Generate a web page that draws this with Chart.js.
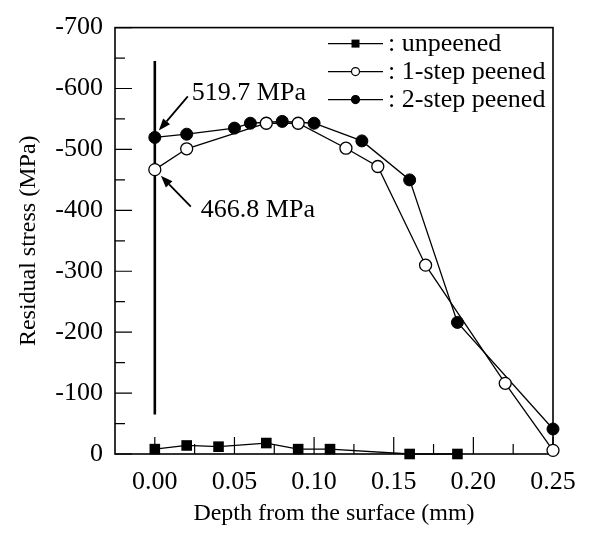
<!DOCTYPE html>
<html><head><meta charset="utf-8">
<script src="https://cdn.jsdelivr.net/npm/chart.js@4/dist/chart.umd.min.js"></script>
<style>html,body{margin:0;padding:0;background:#fff}#wrap{width:592px;height:542px}</style>
</head><body><div id="wrap"><canvas id="c" width="592" height="542" style="width:592px;height:542px"></canvas></div>
<script>
const depthUnpeened = [0, 0.02, 0.04, 0.07, 0.09, 0.11, 0.16, 0.19];
const stressUnpeened = [-8, -14, -12, -18, -8, -8, 0, 0];
const depth1Step = [0, 0.02, 0.07, 0.09, 0.12, 0.14, 0.17, 0.22, 0.25];
const stress1Step = [-466.8, -501, -543, -543, -502, -472, -310, -116, -6];
const depth2Step = [0, 0.02, 0.05, 0.06, 0.08, 0.10, 0.13, 0.16, 0.19, 0.25];
const stress2Step = [-519.7, -525, -535, -543, -546, -543, -514, -450, -216, -41];
const surfaceLineDepth = [0, 0];
const surfaceLineStress = [-645, -65];
const xTicks = [0, 0.05, 0.10, 0.15, 0.20, 0.25];
const xMinorTicks = [0.025, 0.075, 0.125, 0.175, 0.225];
const yMinorTicks = [-650, -550, -450, -350, -250, -150, -50];
const seriesNames = ['unpeened', '1-step peened', '2-step peened'];
const calloutLabels = ['519.7 MPa', '466.8 MPa'];
const calloutDepth = [0, 0];
const calloutStress = [-519.7, -466.8];

const FONT = '"Liberation Serif", "Times New Roman", serif';
const pts = (xs, ys) => xs.map((x, i) => ({x: x, y: ys[i]}));

const frameAndTicks = {
  id: 'frameAndTicks',
  beforeDatasetsDraw(chart) {
    const {ctx, chartArea: a, scales: {x, y}} = chart;
    ctx.save();
    ctx.strokeStyle = '#000';
    ctx.lineWidth = 1.2;
    ctx.beginPath();
    y.ticks.forEach(t => { const py = y.getPixelForValue(t.value); ctx.moveTo(a.left, py); ctx.lineTo(a.left + 17, py); });
    yMinorTicks.forEach(v => { const py = y.getPixelForValue(v); ctx.moveTo(a.left, py); ctx.lineTo(a.left + 10, py); });
    xTicks.forEach(v => { const px = x.getPixelForValue(v); ctx.moveTo(px, a.bottom); ctx.lineTo(px, a.bottom - 17); });
    xMinorTicks.forEach(v => { const px = x.getPixelForValue(v); ctx.moveTo(px, a.bottom); ctx.lineTo(px, a.bottom - 10); });
    ctx.stroke();
    ctx.lineWidth = 1.6;
    ctx.strokeRect(a.left, a.top, a.right - a.left, a.bottom - a.top);
    ctx.restore();
  },
  afterDraw(chart) {
    const {ctx, chartArea: a, scales: {x, y}} = chart;
    ctx.save();
    const ds = chart.data.datasets;
    const lx0 = a.right - 225, lx1 = a.right - 170, tx = a.right - 165;
    ctx.font = '26px ' + FONT;
    ctx.textBaseline = 'middle';
    ctx.fillStyle = '#000';
    for (let i = 0; i < 3; i++) {
      const ly = a.top + 16 + i * 28;
      ctx.strokeStyle = '#000'; ctx.lineWidth = 1.3;
      ctx.beginPath(); ctx.moveTo(lx0, ly); ctx.lineTo(lx1, ly); ctx.stroke();
      const mx = (lx0 + lx1) / 2;
      ctx.beginPath();
      if (ds[i].pointStyle === 'rect') { ctx.rect(mx - 4, ly - 4, 8, 8); ctx.fillStyle = '#000'; ctx.fill(); }
      else { ctx.arc(mx, ly, 4, 0, Math.PI * 2); ctx.fillStyle = ds[i].pointBackgroundColor; ctx.fill(); ctx.lineWidth = 1.2; ctx.stroke(); }
      ctx.fillStyle = '#000';
      ctx.textAlign = 'left';
      ctx.fillText(': ' + seriesNames[i], tx, ly + 1);
    }
    const arrow = (x1, y1, x2, y2) => {
      ctx.strokeStyle = '#000'; ctx.fillStyle = '#000'; ctx.lineWidth = 1.8;
      const ang = Math.atan2(y2 - y1, x2 - x1);
      const hl = 12, hw = 4.5;
      const bx = x2 - hl * Math.cos(ang), by = y2 - hl * Math.sin(ang);
      ctx.beginPath(); ctx.moveTo(x1, y1); ctx.lineTo(bx, by); ctx.stroke();
      ctx.beginPath(); ctx.moveTo(x2, y2);
      ctx.lineTo(bx + hw * Math.sin(ang), by - hw * Math.cos(ang));
      ctx.lineTo(bx - hw * Math.sin(ang), by + hw * Math.cos(ang));
      ctx.closePath(); ctx.fill();
    };
    ctx.font = '26px ' + FONT;
    ctx.textAlign = 'left';
    ctx.textBaseline = 'middle';
    const p0x = x.getPixelForValue(calloutDepth[0]), p0y = y.getPixelForValue(calloutStress[0]);
    arrow(p0x + 33, p0y - 41, p0x + 4, p0y - 7);
    ctx.fillText(calloutLabels[0], p0x + 37, p0y - 44);
    const p1x = x.getPixelForValue(calloutDepth[1]), p1y = y.getPixelForValue(calloutStress[1]);
    arrow(p1x + 36, p1y + 37, p1x + 6, p1y + 6);
    ctx.fillText(calloutLabels[1], p1x + 46, p1y + 41);
    ctx.restore();
  }
};

new Chart(document.getElementById('c'), {
  type: 'line',
  data: {
    datasets: [
      { label: seriesNames[0], data: pts(depthUnpeened, stressUnpeened), borderColor: '#000', borderWidth: 1.3,
        pointStyle: 'rect', pointRadius: 7.5, pointBackgroundColor: '#000', pointBorderColor: '#000', pointBorderWidth: 0, clip: false },
      { label: seriesNames[1], data: pts(depth1Step, stress1Step), borderColor: '#000', borderWidth: 1.3,
        pointStyle: 'circle', pointRadius: 6, pointBackgroundColor: '#fff', pointBorderColor: '#000', pointBorderWidth: 1.3, clip: false },
      { label: seriesNames[2], data: pts(depth2Step, stress2Step), borderColor: '#000', borderWidth: 1.3,
        pointStyle: 'circle', pointRadius: 6, pointBackgroundColor: '#000', pointBorderColor: '#000', pointBorderWidth: 1, clip: false },
      { label: 'surface', data: pts(surfaceLineDepth, surfaceLineStress), borderColor: '#000', borderWidth: 2.6,
        pointRadius: 0, clip: false }
    ]
  },
  options: {
    responsive: false,
    animation: false,
    events: [],
    layout: { padding: { top: 18, right: 39, left: 0, bottom: 0 } },
    plugins: { legend: { display: false }, tooltip: { enabled: false } },
    scales: {
      x: {
        type: 'linear', min: -0.025, max: 0.25,
        afterBuildTicks: s => { s.ticks = xTicks.map(v => ({value: v})); },
        afterFit: s => { s.height = 88; },
        grid: { display: false, drawTicks: false }, border: { display: false },
        ticks: { padding: 13, color: '#000', font: { family: FONT, size: 26 }, callback: v => Number(v).toFixed(2), maxRotation: 0, autoSkip: false },
        title: { display: true, text: 'Depth from the surface (mm)', color: '#000', font: { family: FONT, size: 24 }, padding: { top: 0, bottom: 14 } }
      },
      y: {
        type: 'linear', min: -700, max: 0, reverse: true,
        afterFit: s => { s.width = 115; },
        grid: { display: false, drawTicks: false }, border: { display: false },
        ticks: { stepSize: 100, padding: 12, color: '#000', font: { family: FONT, size: 26 }, callback: v => String(v) },
        title: { display: true, text: 'Residual stress (MPa)', color: '#000', font: { family: FONT, size: 24 }, padding: { top: 14, bottom: 0 } }
      }
    }
  },
  plugins: [frameAndTicks]
});
</script>
</body></html>
